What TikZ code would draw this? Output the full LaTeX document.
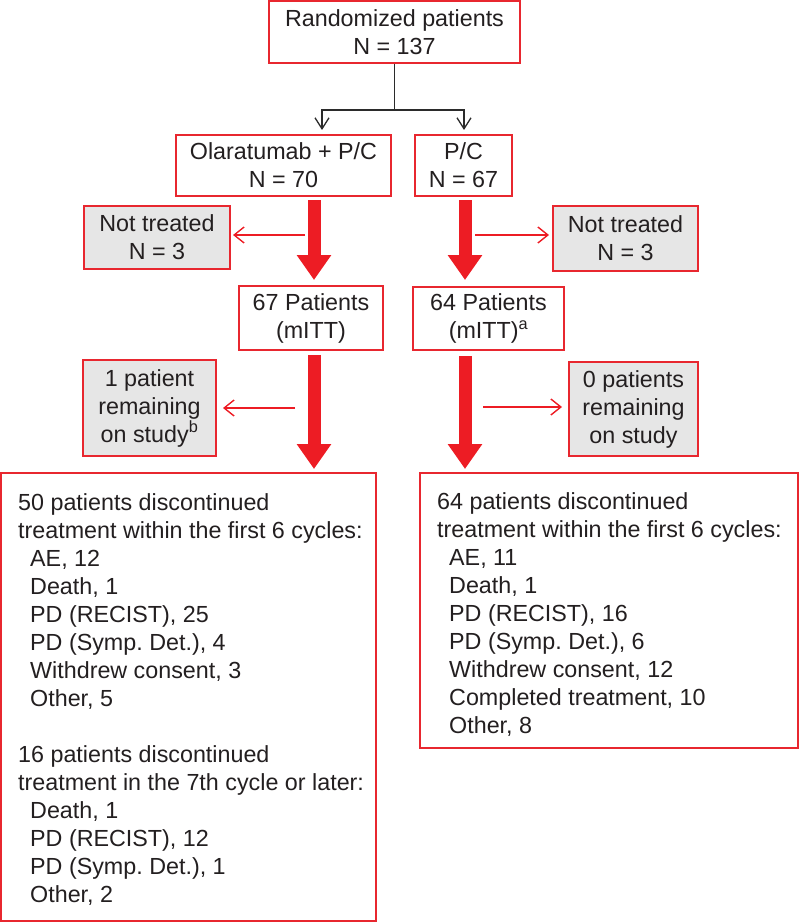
\documentclass[tikz,border=0pt]{standalone}
\usepackage{fontspec}
\setmainfont{Liberation Sans}
\usetikzlibrary{arrows.meta}
\definecolor{bred}{HTML}{E8272F}
\definecolor{fred}{HTML}{ED1C24}
\definecolor{gfill}{HTML}{E6E6E6}
\definecolor{tx}{HTML}{231F20}
\definecolor{conncol}{HTML}{2B2B2B}
\frenchspacing
\begin{document}
\begin{tikzpicture}[x=1pt,y=-1pt,
  font=\fontsize{23.3}{28}\selectfont,
  box/.style={draw=bred, line width=2pt, fill=white, align=center, inner sep=0pt, text=tx},
  gbox/.style={box, fill=gfill},
  fatarrow/.style={draw=fred, line width=13pt, -{Triangle[length=25pt,width=33pt]}},
  thinarrow/.style={draw=fred, line width=1.4pt, -{Straight Barb[length=10pt,width=16pt]}},
  conn/.style={draw=conncol, line width=1.3pt},
  connarrow/.style={conn, -{Straight Barb[length=11pt,width=14pt]}},
  listtext/.style={anchor=base west, align=left, inner sep=0pt, text=tx}]
\useasboundingbox (0,0) rectangle (800,923);
% boxes
\node[box, minimum width=251pt, minimum height=62pt] (top) at (394.5,32) {Randomized patients\\N = 137};
\node[box, minimum width=215pt, minimum height=61pt] (ola) at (283.5,165.5) {Olaratumab + P/C\\N = 70};
\node[box, minimum width=97pt, minimum height=61pt] (pc) at (463.5,165.5) {P/C\\N = 67};
\node[gbox, minimum width=146pt, minimum height=63pt] (nt1) at (157,237.5) {Not treated\\N = 3};
\node[gbox, minimum width=145pt, minimum height=65pt] (nt2) at (625.5,238.5) {Not treated\\N = 3};
\node[box, minimum width=144pt, minimum height=64pt] (p67) at (311,318) {67 Patients\\(mITT)};
\node[box, minimum width=151pt, minimum height=63pt] (p64) at (488.5,318.5) {64 Patients\\(mITT)\textsuperscript{a}};
\node[gbox, minimum width=133pt, minimum height=96pt] (rem1) at (149.5,408) {1 patient\\remaining\\on study\textsuperscript{b}};
\node[gbox, minimum width=129pt, minimum height=94pt] (rem2) at (633.5,409) {0 patients\\remaining\\on study};
\node[box, minimum width=375pt, minimum height=448pt] (big1) at (188.5,697) {};
\node[box, minimum width=378pt, minimum height=275pt] (big2) at (609,610.5) {};
\node[listtext] (t1) at (18,902) {50 patients discontinued\\
treatment within the first 6 cycles:\\
\hspace*{12pt}AE, 12\\
\hspace*{12pt}Death, 1\\
\hspace*{12pt}PD (RECIST), 25\\
\hspace*{12pt}PD (Symp. Det.), 4\\
\hspace*{12pt}Withdrew consent, 3\\
\hspace*{12pt}Other, 5\\[28pt]
16 patients discontinued\\
treatment in the 7th cycle or later:\\
\hspace*{12pt}Death, 1\\
\hspace*{12pt}PD (RECIST), 12\\
\hspace*{12pt}PD (Symp. Det.), 1\\
\hspace*{12pt}Other, 2};
\node[listtext] (t2) at (437,733) {64 patients discontinued\\
treatment within the first 6 cycles:\\
\hspace*{12pt}AE, 11\\
\hspace*{12pt}Death, 1\\
\hspace*{12pt}PD (RECIST), 16\\
\hspace*{12pt}PD (Symp. Det.), 6\\
\hspace*{12pt}Withdrew consent, 12\\
\hspace*{12pt}Completed treatment, 10\\
\hspace*{12pt}Other, 8};
% columns
\coordinate (Lcol) at (314,0);
\coordinate (Rcol) at (465,0);
% black connectors
\draw[conn] (top.south) -- ++(0,46) coordinate (split);
\draw[connarrow, shorten >=4pt] (split) -| ([xshift=38.5pt]ola.north);
\draw[connarrow, shorten >=4pt] (split) -| ([xshift=0.5pt]pc.north);
% fat arrows
\draw[fatarrow, shorten <=3pt, shorten >=5pt] (ola.south -| Lcol) -- (p67.north -| Lcol);
\draw[fatarrow, shorten <=4pt, shorten >=3pt] (p67.south -| Lcol) -- (big1.north -| Lcol);
\draw[fatarrow, shorten <=3pt, shorten >=6pt] (pc.south -| Rcol) -- (p64.north -| Rcol);
\draw[fatarrow, shorten <=5pt, shorten >=3pt] (p64.south -| Rcol) -- (big2.north -| Rcol);
% thin arrows
\draw[thinarrow, shorten <=9pt, shorten >=2pt] ([yshift=2.5pt]nt1.east -| Lcol) -- ([yshift=2.5pt]nt1.east);
\draw[thinarrow, shorten <=19pt, shorten >=6pt] (rem1.east -| Lcol) -- (rem1.east);
\draw[thinarrow, shorten <=10pt, shorten >=3pt] ([yshift=3.5pt]nt2.west -| Rcol) -- ([yshift=3.5pt]nt2.west);
\draw[thinarrow, shorten <=18pt, shorten >=6pt] ([yshift=2pt]rem2.west -| Rcol) -- ([yshift=2pt]rem2.west);
\end{tikzpicture}
\end{document}
